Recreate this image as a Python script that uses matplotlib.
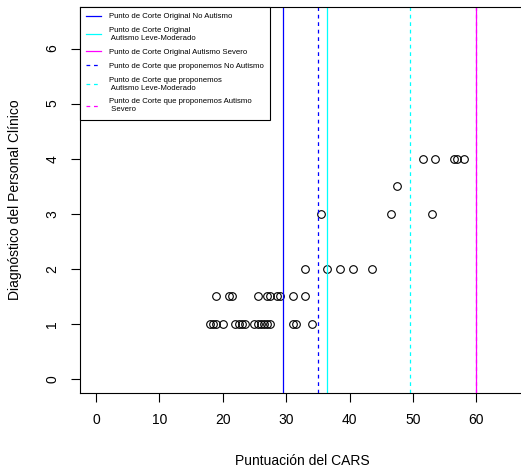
import matplotlib
matplotlib.use("Agg")
import matplotlib.pyplot as plt

plt.rcParams['font.family'] = ['Liberation Sans', 'DejaVu Sans']

# CARS scores by clinical diagnosis level
cars_1 = [18, 18.5, 19, 20, 22, 22.5, 23, 23.5, 25, 25.5, 26, 26.5, 27, 27.5, 31, 31.5, 34]
cars_15 = [19, 21, 21.5, 25.5, 27, 27.5, 28.5, 29, 31, 33]
cars_2 = [33, 36.5, 38.5, 40.5, 43.5]
cars_3 = [35.5, 46.5, 53]
cars_35 = [47.5]
cars_4 = [51.5, 53.5, 56.5, 57, 58]

cars = cars_1 + cars_15 + cars_2 + cars_3 + cars_35 + cars_4
diag = ([1] * len(cars_1) + [1.5] * len(cars_15) + [2] * len(cars_2)
        + [3] * len(cars_3) + [3.5] * len(cars_35) + [4] * len(cars_4))

# cut points
cortes_orig = [29.5, 36.5, 60]
cortes_prop = [35, 49.5, 60]
colores = ["blue", "cyan", "magenta"]
etiquetas_orig = ["Punto de Corte Original No Autismo",
                  "Punto de Corte Original\n Autismo Leve-Moderado",
                  "Punto de Corte Original Autismo Severo"]
etiquetas_prop = ["Punto de Corte que proponemos No Autismo",
                  "Punto de Corte que proponemos\n Autismo Leve-Moderado",
                  "Punto de Corte que proponemos Autismo\n Severo"]

fig = plt.figure(figsize=(5.21, 4.68), dpi=100)
ax = fig.add_axes([0.1526, 0.1596, 0.8543, 0.8261])

ax.plot(cars, diag, linestyle="none", marker="o", markersize=5.5,
        markerfacecolor="none", markeredgecolor="black", markeredgewidth=0.8)

for c, col, lab in zip(cortes_orig, colores, etiquetas_orig):
    ax.axvline(c, color=col, linewidth=0.9, label=lab)
for c, col, lab in zip(cortes_prop, colores, etiquetas_prop):
    ax.axvline(c, color=col, linewidth=0.9, linestyle=(0, (3, 3)), label=lab)

ax.set_xlim(-2.6, 67.6)
ax.set_ylim(-0.26, 6.76)
ax.set_xticks(range(0, 61, 10))
ax.set_yticks(range(0, 7))
ax.tick_params(direction="out", length=6.5, width=0.8, labelsize=10, pad=8)
for lbl in ax.get_yticklabels():
    lbl.set_rotation(90)
    lbl.set_va("center")
for s in ax.spines.values():
    s.set_linewidth(0.8)

ax.set_xlabel("Puntuación del CARS", fontsize=10, labelpad=19)
ax.set_ylabel("Diagnóstico del Personal Clínico", fontsize=10, labelpad=17)

leg = ax.legend(loc="upper left", bbox_to_anchor=(0, 1), borderaxespad=0,
                fontsize=5.6, frameon=True, fancybox=False, framealpha=1,
                edgecolor="black", handlelength=2.0, handletextpad=1.0,
                labelspacing=0.85, borderpad=0.8)
leg.get_frame().set_linewidth(0.8)

fig.savefig("out.png", dpi=100)
